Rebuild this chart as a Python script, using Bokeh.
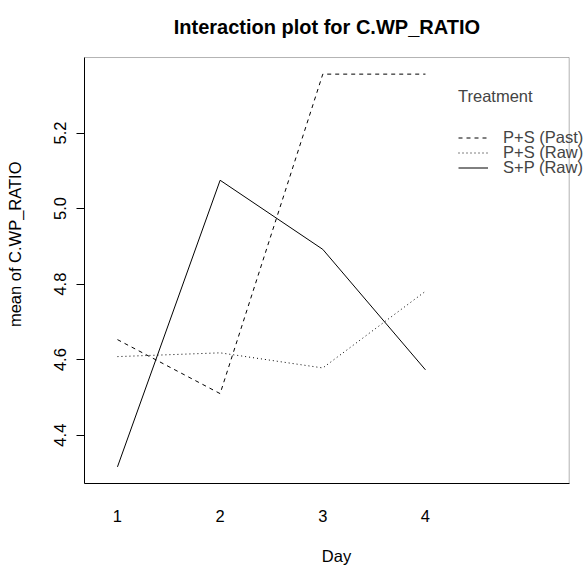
from bokeh.plotting import figure
from bokeh.models import FixedTicker, Legend, LegendItem, Range1d, Label, BoxAnnotation
from bokeh.embed import file_html
from bokeh.resources import INLINE

days = [1, 2, 3, 4]
day_labels = ["1", "2", "3", "4"]
treatments = ["P+S (Past)", "P+S (Raw)", "S+P (Raw)"]
ps_past = [4.653, 4.510, 5.356, 5.356]
ps_raw = [4.608, 4.618, 4.578, 4.781]
sp_raw = [4.316, 5.075, 4.892, 4.573]
y_ticks = [4.4, 4.6, 4.8, 5.0, 5.2]
y_tick_labels = ["4.4", "4.6", "4.8", "5.0", "5.2"]
title_text = "Interaction plot for C.WP_RATIO"
legend_title = "Treatment"

FONT = "Liberation Sans"
FS = "16.5px"

# plot box (R's plot region) and the wider drawing frame that also holds title/legend
X0, X1 = 0.679, 5.40
Y0, Y1 = 4.272, 5.400
X_FRAME_END = 5.588
Y_FRAME_END = 5.551

p = figure(width=588, height=572, output_backend="svg", toolbar_location=None,
           x_range=Range1d(X0, X_FRAME_END), y_range=Range1d(Y0, Y_FRAME_END),
           min_border_left=84, min_border_right=0, min_border_top=0, min_border_bottom=89)

p.xgrid.visible = False
p.ygrid.visible = False
p.outline_line_color = None
p.background_fill_color = "white"
p.border_fill_color = "white"

box = BoxAnnotation(left=X0, right=X1, bottom=Y0, top=Y1, fill_alpha=0,
                    line_color="#000000", line_width=1)
p.add_layout(box)

xa = p.xaxis[0]
xa.ticker = FixedTicker(ticks=days)
xa.major_label_overrides = {d: l for d, l in zip(days, day_labels)}
xa.bounds = (X0, X1)
xa.axis_line_color = "#000000"
xa.major_tick_line_color = None
xa.minor_tick_line_color = None
xa.major_tick_out = 0
xa.major_tick_in = 0
xa.major_label_standoff = 26
xa.axis_label = "Day"
xa.axis_label_standoff = 22

ya = p.yaxis[0]
ya.ticker = FixedTicker(ticks=y_ticks)
ya.major_label_overrides = {t: l for t, l in zip(y_ticks, y_tick_labels)}
ya.bounds = (Y0, Y1)
ya.axis_line_color = "#000000"
ya.minor_tick_line_color = None
ya.major_tick_out = 8
ya.major_tick_in = 0
ya.major_tick_line_color = "#000000"
ya.major_label_orientation = "vertical"
ya.major_label_standoff = 10
ya.axis_label = "mean of  C.WP_RATIO"
ya.axis_label_standoff = 28

for ax in [xa, ya]:
    ax.major_label_text_font = FONT
    ax.major_label_text_font_size = FS
    ax.major_label_text_color = "#000000"
    ax.axis_label_text_font = FONT
    ax.axis_label_text_font_size = FS
    ax.axis_label_text_font_style = "normal"
    ax.axis_label_text_color = "#000000"

r1 = p.line(days, ps_past, line_color="black", line_width=1, line_dash="4 4")
r2 = p.line(days, ps_raw, line_color="black", line_width=1, line_dash="1 3")
r3 = p.line(days, sp_raw, line_color="black", line_width=1)

title = Label(x=(X0 + X1) / 2, y=457, x_units="data", y_units="screen",
              text=title_text, text_align="center", text_baseline="alphabetic",
              text_font=FONT, text_font_size="20px", text_font_style="bold",
              text_color="#000000")
p.add_layout(title)


def make_legend(label, renderer, loc, title=None):
    lg = Legend(items=[LegendItem(label=label, renderers=[renderer])], location=loc)
    if title is not None:
        lg.title = title
        lg.title_text_font = FONT
        lg.title_text_font_size = FS
        lg.title_text_font_style = "normal"
        lg.title_standoff = 22
    lg.label_text_font = FONT
    lg.label_text_font_size = FS
    lg.glyph_width = 30
    lg.glyph_height = 15
    lg.label_height = 15
    lg.label_standoff = 15
    lg.spacing = 0
    lg.padding = 0
    lg.margin = 0
    lg.border_line_color = None
    lg.background_fill_alpha = 0
    p.add_layout(lg, "center")


make_legend(treatments[0], r1, (374, 336), title=legend_title)
make_legend(treatments[1], r2, (374, 321))
make_legend(treatments[2], r3, (374, 306))

open("out.html", "w").write(file_html(p, INLINE))
